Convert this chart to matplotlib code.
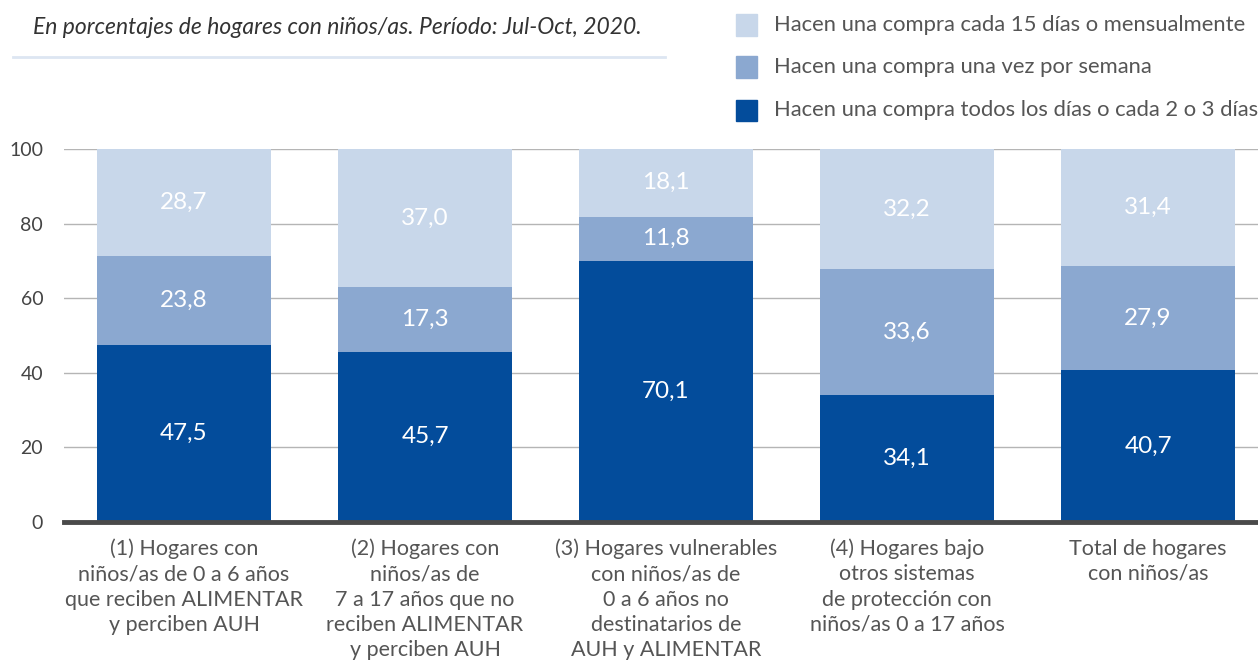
import numpy as np
import matplotlib.pyplot as plt
from matplotlib.patches import Rectangle
from matplotlib.lines import Line2D

plt.rcParams['font.family'] = ['Lato', 'DejaVu Sans']

categorias = ['(1) Hogares con\nniños/as de 0 a 6 años\nque reciben ALIMENTAR\ny perciben AUH',
              '(2) Hogares con\nniños/as de\n7 a 17 años que no\nreciben ALIMENTAR\ny perciben AUH',
              '(3) Hogares vulnerables\ncon niños/as de\n0 a 6 años no\ndestinatarios de\nAUH y ALIMENTAR',
              '(4) Hogares bajo\notros sistemas\nde protección con\nniños/as 0 a 17 años',
              'Total de hogares\ncon niños/as']
diario = [47.5, 45.7, 70.1, 34.1, 40.7]
semanal = [23.8, 17.3, 11.8, 33.6, 27.9]
mensual = [28.7, 37.0, 18.1, 32.2, 31.4]
series = [diario, semanal, mensual]
nombres = ['Hacen una compra todos los días o cada 2 o 3 días',
           'Hacen una compra una vez por semana',
           'Hacen una compra cada 15 días o mensualmente']
colores = ['#034c9b', '#8ba8d0', '#c8d7ea']
titulo = 'En porcentajes de hogares con niños/as. Período: Jul-Oct, 2020.'

fig = plt.figure(figsize=(12.58, 6.62), dpi=100)
ax = fig.add_axes([64/1258, 140/662, 1 - 64/1258, 373/662])

x = np.arange(len(categorias))
base = np.zeros(len(categorias))
for vals, col in zip(series, colores):
    vals = np.array(vals)
    ax.bar(x, vals, bottom=base, width=0.722, color=col, zorder=2)
    for xi, b, v in zip(x, base, vals):
        ax.text(xi, b + v/2, f'{v:.1f}'.replace('.', ','), ha='center', va='center',
                color='white', fontsize=17.5, zorder=3)
    base += vals

ax.set_xlim(-0.498, 4.456)
ax.set_ylim(0, 100)
ax.set_yticks([0, 20, 40, 60, 80, 100])
ax.tick_params(axis='y', length=0, pad=15, labelsize=14, labelcolor='#444444')
ax.set_xticks(x)
ax.set_xticklabels(categorias, fontsize=15.5, color='#555555', linespacing=1.32)
ax.tick_params(axis='x', length=0, pad=12)
ax.grid(axis='y', color='#b5b5b5', lw=1, zorder=0)
ax.axhline(0, color='#4a4a4a', lw=3.5, zorder=4, clip_on=False)
for s in ax.spines.values():
    s.set_visible(False)

# titulo y linea
fig.text(33/1258, 1 - 27/662, titulo, fontsize=16.5, style='italic', color='#333333',
         ha='left', va='center')
fig.add_artist(Line2D([13/1258, 665/1258], [1 - 57/662, 1 - 57/662], color='#dde6f2', lw=2))

# leyenda
ys = [25, 67, 110]
for yy, nombre, col in zip(ys, nombres[::-1], colores[::-1]):
    fig.add_artist(Rectangle((736/1258, 1 - (yy + 10.5)/662), 21/1258, 21/662,
                             color=col, transform=fig.transFigure))
    fig.text(774/1258, 1 - yy/662, nombre, fontsize=15.8, color='#555555',
             ha='left', va='center')

fig.savefig('out.png', dpi=100)
